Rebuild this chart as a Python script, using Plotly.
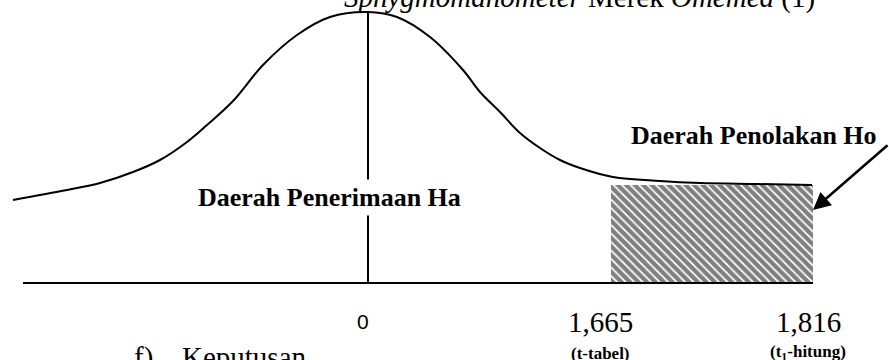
import plotly.graph_objects as go

# diagram units: x = horizontal position, y = height above the base line
curve_x = [13, 67, 100, 133, 160, 187, 207, 233, 263, 297, 330, 368, 397, 430,
           463, 480, 500, 520, 540, 560, 580, 613, 660, 700, 757, 812]
curve_y = [83, 93, 100, 111, 123, 141, 158, 182, 218, 248, 266, 271, 266, 246,
           213, 191, 171, 150, 135, 123, 115, 106, 102, 100, 99, 98]

base_x = [23, 813]
center_x = 368
peak_y = 271

# rejection area (t-tabel .. t-hitung)
region_x = [611, 813]
region_height = 98

tick_pos = [363, 600, 808]
tick_labels = ["0", "1,665", "1,816"]
tick_notes = ["", "(t-tabel)", "(t<sub>1</sub>-hitung)"]

SERIF = "Liberation Serif, Times New Roman, serif"
SANS = "Liberation Sans, Arial, sans-serif"
Y0, Y1 = -77, 283

fig = go.Figure()

fig.add_trace(go.Bar(
    x=[(region_x[0] + region_x[1]) / 2], y=[region_height],
    width=[region_x[1] - region_x[0]],
    marker=dict(color="white", line=dict(width=0),
                pattern=dict(shape="\\", fgcolor="black", bgcolor="white",
                             size=6, solidity=0.7)),
    hoverinfo="skip",
))

fig.add_trace(go.Scatter(x=curve_x, y=curve_y, mode="lines",
                         line=dict(color="black", width=2, shape="spline", smoothing=1.0),
                         hoverinfo="skip"))
fig.add_trace(go.Scatter(x=base_x, y=[0, 0], mode="lines",
                         line=dict(color="black", width=2), hoverinfo="skip"))
fig.add_trace(go.Scatter(x=[center_x, center_x], y=[0, peak_y], mode="lines",
                         line=dict(color="black", width=2), hoverinfo="skip"))

ann = []
# page text above the diagram, cut at the top edge
ann.append(dict(x=342, xref="x", y=(286 - Y0) / (Y1 - Y0), yref="paper",
                xanchor="left", yanchor="middle", showarrow=False,
                text="<i>Sphygmomanometer</i> Merek <i>Omemed</i> (1)",
                font=dict(family=SERIF, size=29, color="black")))
ann.append(dict(x=329, y=86, xanchor="center", yanchor="middle", showarrow=False,
                text="<b>Daerah Penerimaan Ha</b>", bgcolor="white", borderpad=3,
                font=dict(family=SERIF, size=26, color="black")))
ann.append(dict(x=754, y=148, xanchor="center", yanchor="middle", showarrow=False,
                text="<b>Daerah Penolakan Ho</b>",
                font=dict(family=SERIF, size=26, color="black")))
ann.append(dict(x=region_x[1], y=73, ax=80, ay=-66, text="", showarrow=True,
                arrowhead=2, arrowsize=1.4, arrowwidth=2.5, arrowcolor="black",
                standoff=0))

for i, (pos, lab, note) in enumerate(zip(tick_pos, tick_labels, tick_notes)):
    if i == 0:
        ann.append(dict(x=pos, y=-38, xanchor="center", yanchor="middle", showarrow=False,
                        text=lab, font=dict(family=SANS, size=21, color="black")))
    else:
        ann.append(dict(x=pos, y=-39, xanchor="center", yanchor="middle", showarrow=False,
                        text=lab, font=dict(family=SERIF, size=29, color="black")))
        ann.append(dict(x=pos, y=-70, xanchor="center", yanchor="middle", showarrow=False,
                        text="<b>" + note + "</b>",
                        font=dict(family=SERIF, size=17, color="black")))

ann.append(dict(x=132, y=-74, xanchor="left", yanchor="middle", showarrow=False,
                text="f)", font=dict(family=SERIF, size=29, color="black")))
ann.append(dict(x=180, y=-74, xanchor="left", yanchor="middle", showarrow=False,
                text="Keputusan", font=dict(family=SERIF, size=29, color="black")))

fig.update_layout(
    width=889, height=360,
    margin=dict(l=0, r=0, t=0, b=0),
    paper_bgcolor="white", plot_bgcolor="white",
    showlegend=False,
    xaxis=dict(range=[0, 889], visible=False, fixedrange=True),
    yaxis=dict(range=[Y0, Y1], visible=False, fixedrange=True),
    annotations=ann,
    bargap=0,
)

fig.write_html("out.html", config={"displayModeBar": False},
               post_script="document.body.style.margin='0';")
